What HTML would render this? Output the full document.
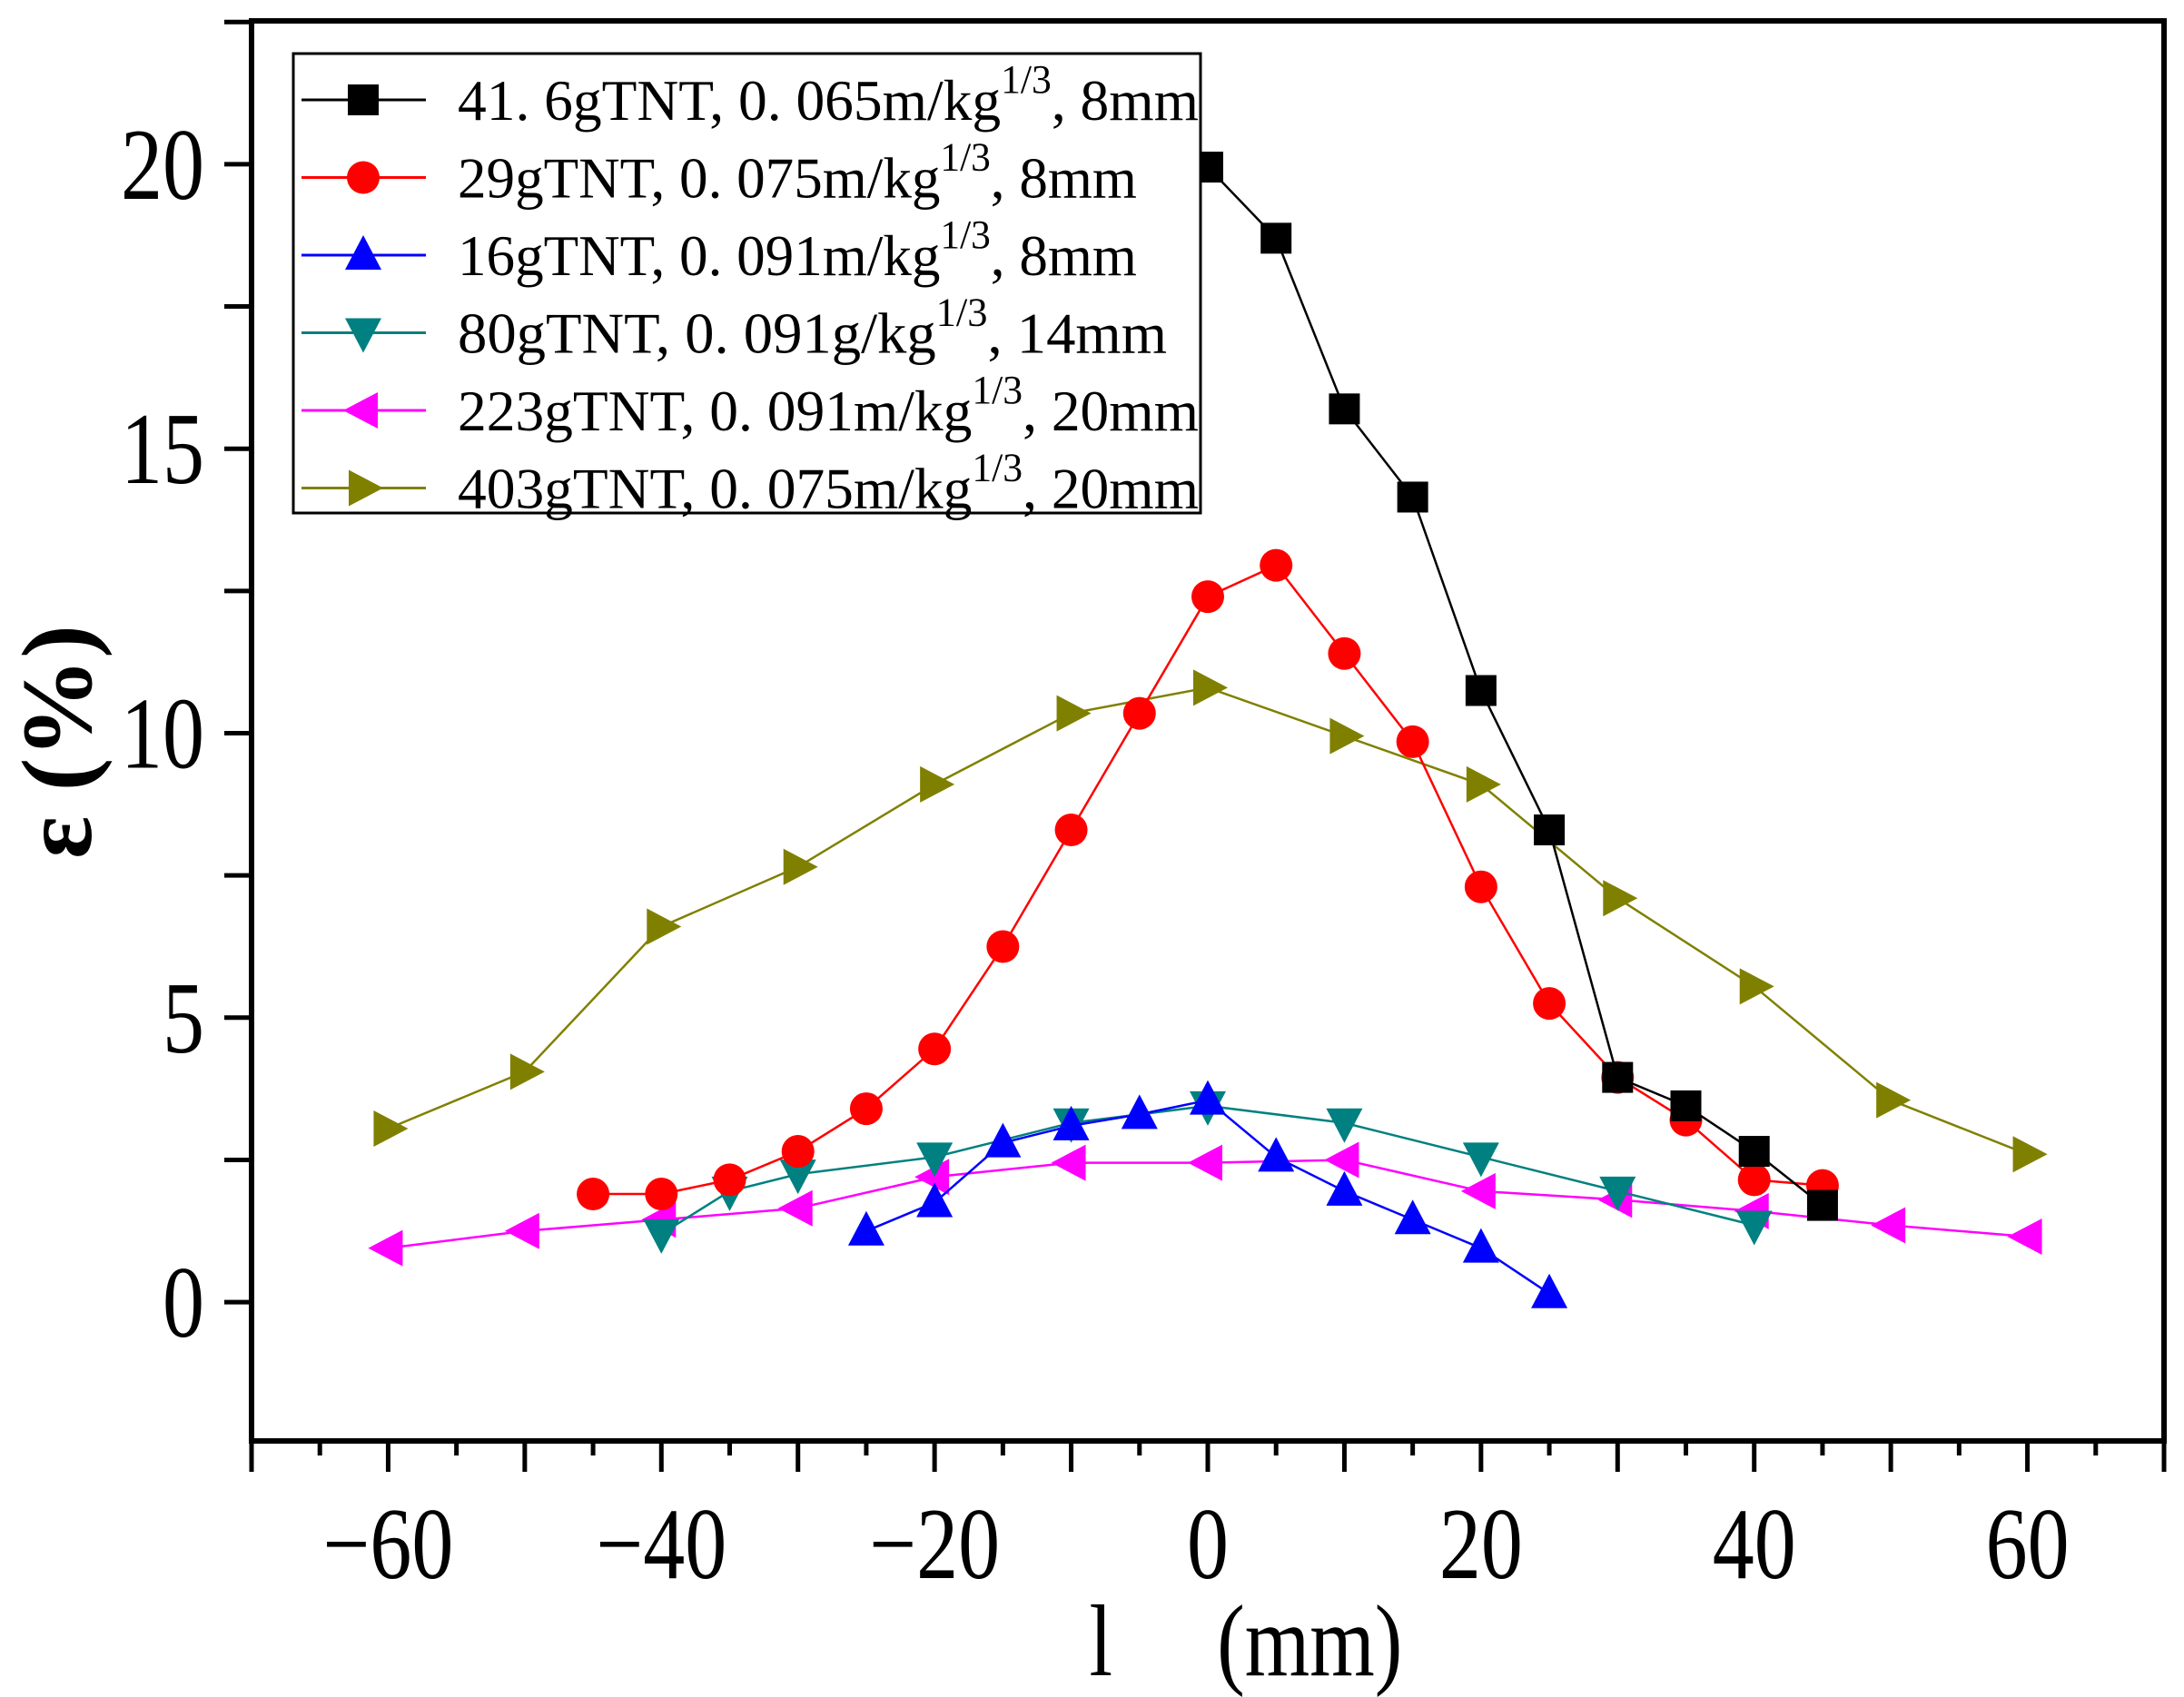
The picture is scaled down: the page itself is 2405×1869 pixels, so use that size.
<!DOCTYPE html>
<html><head><meta charset="utf-8"><style>
html,body{margin:0;padding:0;background:#fff}
svg{display:block}
</style></head><body>
<svg id="chart" width="2405" height="1869" viewBox="0 0 2405 1869" xmlns="http://www.w3.org/2000/svg"></svg>
<script>
const xTicks=[-60,-40,-20,0,20,40,60];
const yTicks=[0,5,10,15,20];
const blackX=[0,5,10,15,20,25,30,35,40,45];
const blackY=[19.95,18.7,15.7,14.15,10.75,8.3,3.95,3.45,2.65,1.7];
const redX=[-45,-40,-35,-30,-25,-20,-15,-10,-5,0,5,10,15,20,25,30,35,40,45];
const redY=[1.9,1.9,2.15,2.65,3.4,4.45,6.25,8.3,10.35,12.4,12.95,11.4,9.85,7.3,5.25,3.95,3.2,2.15,2.05];
const blueX=[-25,-20,-15,-10,-5,0,5,10,15,20,25];
const blueY=[1.25,1.75,2.8,3.1,3.3,3.55,2.55,1.95,1.45,0.95,0.15];
const tealX=[-40,-35,-30,-20,-10,0,10,20,30,40];
const tealY=[1.2,1.95,2.25,2.55,3.15,3.45,3.15,2.55,1.95,1.35];
const magX=[-60,-50,-40,-30,-20,-10,0,10,20,30,40,50,60];
const magY=[0.95,1.25,1.45,1.65,2.2,2.45,2.45,2.5,1.95,1.8,1.6,1.35,1.15];
const oliveX=[-60,-50,-40,-30,-20,-10,0,10,20,30,40,50,60];
const oliveY=[3.05,4.05,6.6,7.65,9.1,10.35,10.8,9.95,9.1,7.1,5.55,3.55,2.6];

const NS='http://www.w3.org/2000/svg';
const svg=document.getElementById('chart');
const L=277,R=2383,T=23,B=1587,XMIN=-70,XMAX=70,YMIN=-2.44,YMAX=22.52;
function sx(v){return L+(v-XMIN)/(XMAX-XMIN)*(R-L);}
function sy(v){return B-(v-YMIN)/(YMAX-YMIN)*(B-T);}
function mk(tag,attrs,parent){const e=document.createElementNS(NS,tag);for(const k in attrs)e.setAttribute(k,attrs[k]);(parent||svg).appendChild(e);return e;}
const F='"Liberation Serif", serif';

for(let v=-70;v<=70;v+=5){
  const major=(v%10===0);
  const t=mk('line',{x1:sx(v),x2:sx(v),y1:B,y2:B+(major?34:16),stroke:'#000','stroke-width':5});
  
  
}
for(let v=0;v<=22.5;v+=2.5){
  const t=mk('line',{x1:L-30,x2:L,y1:sy(v),y2:sy(v),stroke:'#000','stroke-width':5});
  
  
}
xTicks.forEach(v=>{
  const t=mk('text',{x:0,y:0,'font-family':F,'font-size':100,'text-anchor':'middle',transform:`translate(${sx(v)},1738) scale(0.92,1.12)`});
  t.textContent=v<0?'\u2212'+(-v):String(v);
  
  
});
yTicks.forEach(v=>{
  const t=mk('text',{x:0,y:0,'font-family':F,'font-size':100,'text-anchor':'end',transform:`translate(225,${sy(v)+38}) scale(0.92,1.12)`});
  t.textContent=String(v);
  
  
});

function marker(type,x,y,color,parent){
  let e;
  if(type==='sq')e=mk('rect',{x:x-17,y:y-17,width:34,height:34,fill:color},parent);
  else if(type==='ci')e=mk('circle',{cx:x,cy:y,r:18,fill:color},parent);
  else if(type==='up')e=mk('polygon',{points:`${x},${y-22} ${x-20},${y+16} ${x+20},${y+16}`,fill:color},parent);
  else if(type==='dn')e=mk('polygon',{points:`${x-20},${y-16} ${x+20},${y-16} ${x},${y+22}`,fill:color},parent);
  else if(type==='lf')e=mk('polygon',{points:`${x-22},${y} ${x+16},${y-20} ${x+16},${y+20}`,fill:color},parent);
  else e=mk('polygon',{points:`${x+22},${y} ${x-16},${y-20} ${x-16},${y+20}`,fill:color},parent);
  return e;
}
const series=[
  {name:'series-403g',xs:oliveX,ys:oliveY,c:'#808000',m:'rt'},
  {name:'series-223g',xs:magX,ys:magY,c:'#ff00ff',m:'lf'},
  {name:'series-80g',xs:tealX,ys:tealY,c:'#008080',m:'dn'},
  {name:'series-16g',xs:blueX,ys:blueY,c:'#0000ff',m:'up'},
  {name:'series-29g',xs:redX,ys:redY,c:'#ff0000',m:'ci'},
  {name:'series-41g',xs:blackX,ys:blackY,c:'#000000',m:'sq'}
];
series.forEach(s=>{
  const g=mk('g',{});
  
  
  const pts=s.xs.map((x,i)=>sx(x)+','+sy(s.ys[i])).join(' ');
  const pl=mk('polyline',{points:pts,fill:'none',stroke:s.c,'stroke-width':2.5},g);
  
  
  s.xs.forEach((x,i)=>{
    const p=marker(s.m,sx(x),sy(s.ys[i]),s.c,g);
    
    
  });
});

const fr=mk('rect',{x:L,y:T,width:R-L,height:B-T,fill:'none',stroke:'#000','stroke-width':6});



const lg=mk('g',{});


mk('rect',{x:323,y:59,width:999,height:506,fill:'#fff',stroke:'#000','stroke-width':3},lg);
const legItems=[
  ['41. 6gTNT, 0. 065m/kg','8mm','#000','sq',1320],
  ['29gTNT, 0. 075m/kg','8mm','#ff0000','ci',1252],
  ['16gTNT, 0. 091m/kg','8mm','#0000ff','up',1252],
  ['80gTNT, 0. 091g/kg','14mm','#008080','dn',1285],
  ['223gTNT, 0. 091m/kg','20mm','#ff00ff','lf',1320],
  ['403gTNT, 0. 075m/kg','20mm','#808000','rt',1320]
];
legItems.forEach((it,i)=>{
  const y=110+i*85.5;
  const g=mk('g',{},lg);
  
  
  mk('line',{x1:332,x2:469,y1:y,y2:y,stroke:it[2],'stroke-width':3},g);
  marker(it[3],400,y,it[2],g);
  const t=mk('text',{x:504,y:y+22,'font-family':F,'font-size':64},g);
  t.setAttribute('textLength',it[4]-504);
  t.setAttribute('lengthAdjust','spacingAndGlyphs');
  const a=document.createElementNS(NS,'tspan');a.textContent=it[0];t.appendChild(a);
  const b=document.createElementNS(NS,'tspan');b.setAttribute('dy','-30');b.setAttribute('font-size','44');b.textContent='1/3';t.appendChild(b);
  const c=document.createElementNS(NS,'tspan');c.setAttribute('dy','30');c.textContent=', '+it[1];t.appendChild(c);
});

const yt=mk('text',{x:0,y:0,'font-family':F,'font-size':110,'font-weight':'bold','text-anchor':'middle',transform:'translate(100,817) rotate(-90)'});
yt.textContent='\u03b5 (%)';


const xt=mk('text',{x:0,y:0,'font-family':F,'font-size':100,'text-anchor':'middle',transform:'translate(1372,1845) scale(0.92,1.12)'});
xt.textContent='l\u2003 (mm)';


</script>
</body></html>
